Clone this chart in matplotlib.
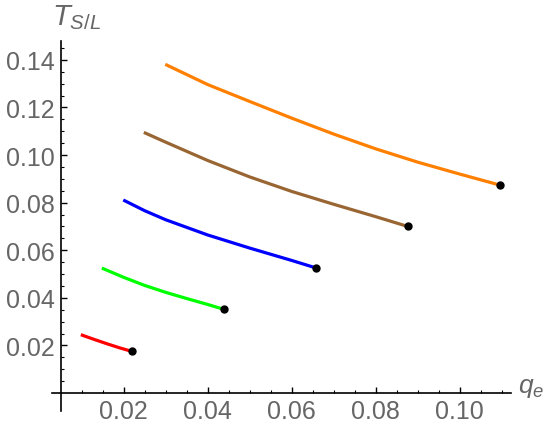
import matplotlib
matplotlib.use("Agg")
import matplotlib.pyplot as plt
from matplotlib.ticker import FixedLocator
from matplotlib import font_manager

# pick a narrow sans if available
names = set(f.name for f in font_manager.fontManager.ttflist)
FONT = "Liberation Sans Narrow" if "Liberation Sans Narrow" in names else "Liberation Sans"
plt.rcParams['font.family'] = [FONT, 'DejaVu Sans']
plt.rcParams['mathtext.fontset'] = 'custom'
plt.rcParams['mathtext.it'] = FONT + ':italic'
plt.rcParams['mathtext.rm'] = FONT

# values
red_x = [0.0098, 0.0130, 0.0160, 0.0190, 0.0219]
red_y = [0.0245, 0.0225, 0.0207, 0.0190, 0.0175]
green_x = [0.0148, 0.0200, 0.0250, 0.0300, 0.0350, 0.0400, 0.0438]
green_y = [0.0525, 0.0486, 0.0452, 0.0423, 0.0397, 0.0372, 0.0352]
blue_x = [0.0199, 0.0250, 0.0300, 0.0400, 0.0500, 0.0600, 0.0657]
blue_y = [0.0811, 0.0766, 0.0728, 0.0664, 0.0609, 0.0557, 0.0526]
brown_x = [0.0248, 0.0300, 0.0400, 0.0500, 0.0600, 0.0700, 0.0800, 0.0876]
brown_y = [0.1095, 0.1054, 0.0977, 0.0908, 0.0847, 0.0793, 0.0741, 0.0700]
orange_x = [0.0299, 0.0400, 0.0500, 0.0600, 0.0700, 0.0800, 0.0900, 0.1000, 0.1095]
orange_y = [0.1381, 0.1296, 0.1225, 0.1155, 0.1088, 0.1026, 0.0970, 0.0920, 0.0874]

curves = [(red_x, red_y, '#ff0000'),
          (green_x, green_y, '#00ff00'),
          (blue_x, blue_y, '#0000ff'),
          (brown_x, brown_y, '#996633'),
          (orange_x, orange_y, '#ff8000')]

x_major = [0.02, 0.04, 0.06, 0.08, 0.10]
y_major = [0.02, 0.04, 0.06, 0.08, 0.10, 0.12, 0.14]
x_minor = [0.005 * k for k in range(2, 23)]
y_minor = [0.005 * k for k in range(1, 30)]

GRAY = '#666666'

fig = plt.figure(figsize=(5.47, 4.39), dpi=100)
ax = fig.add_axes([0.0945, 0.0615, 0.8391, 0.8428])

for xs, ys, c in curves:
    ax.plot(xs, ys, color=c, lw=2.3, solid_capstyle='butt', solid_joinstyle='round')
    ax.plot(xs[-1], ys[-1], 'o', color='black', ms=5)

ax.set_xlim(0.00286, 0.11214)
ax.set_ylim(-0.00756, 0.1479)

ax.spines['left'].set_position(('data', 0.005))
ax.spines['bottom'].set_position(('data', 0.0))
ax.spines['top'].set_visible(False)
ax.spines['right'].set_visible(False)
for s in ('left', 'bottom'):
    ax.spines[s].set_linewidth(1.2)

ax.xaxis.set_major_locator(FixedLocator(x_major))
ax.yaxis.set_major_locator(FixedLocator(y_major))
ax.xaxis.set_minor_locator(FixedLocator(x_minor))
ax.yaxis.set_minor_locator(FixedLocator(y_minor))
ax.set_xticklabels(['%.2f' % v for v in x_major])
ax.set_yticklabels(['%.2f' % v for v in y_major])

ax.tick_params(which='major', direction='in', length=4.5, width=1, labelsize=18,
               labelcolor=GRAY, pad=4)
ax.tick_params(which='minor', direction='in', length=2.5, width=0.8)

fig.text(52 / 547, 1 - 25 / 439, r'$T_{S/L}$', fontsize=21, color=GRAY,
         ha='left', va='baseline')
fig.text(518 / 547, 1 - 393 / 439, r'$q_e$', fontsize=19, color=GRAY,
         ha='left', va='baseline')

fig.savefig('out.png', dpi=100)
